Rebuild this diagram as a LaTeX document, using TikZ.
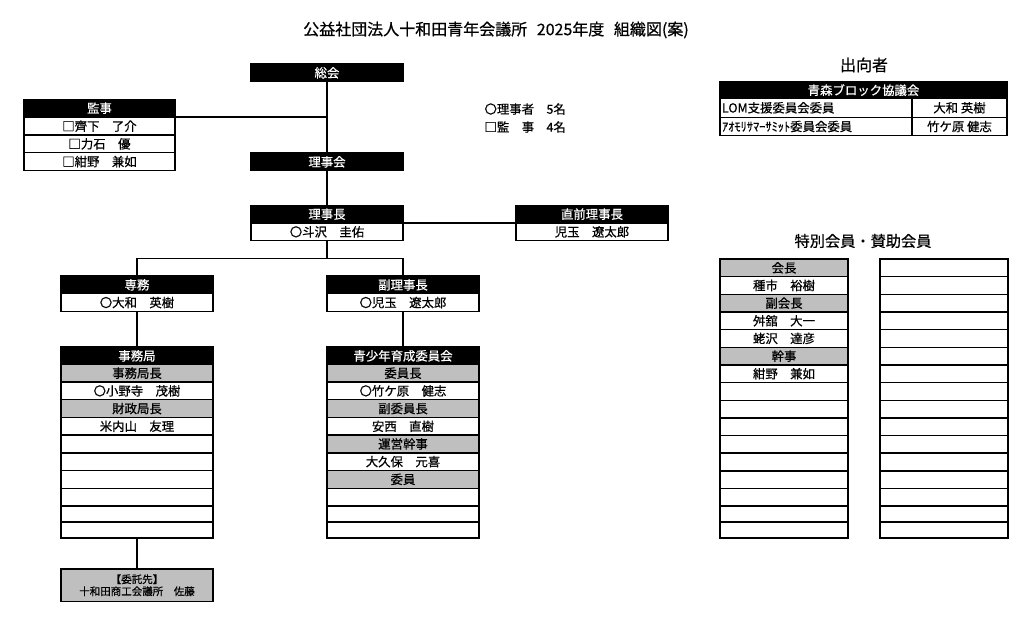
\documentclass[tikz,border=0pt]{standalone}
\usepackage{fontspec}
\setmainfont{Noto Sans CJK JP}[RawFeature={embolden=0.6}]
\definecolor{cellgray}{RGB}{191,191,191}
\newcommand\cellfont{\fontsize{12.4}{14}\selectfont}
\tikzset{
  base/.style={draw=black, line width=1.4pt, inner sep=0pt, outer sep=0pt, anchor=north west, font=\cellfont, minimum width=152pt, minimum height=17.7pt},
  hdr/.style={base, fill=black, text=white},
  gcell/.style={base, fill=cellgray},
  wcell/.style={base, fill=white},
  conn/.style={draw=black, line width=1.4pt},
}
\begin{document}
\begin{tikzpicture}[x=1pt,y=-1pt]
\useasboundingbox (0,0) rectangle (1024,628);
\fill[white] (0,0) rectangle (1024,628);

% title
\node (title) at (496,30) {\fontsize{16}{18}\selectfont 公益社団法人十和田青年会議所\hspace{0.6em}2025年度\hspace{0.6em}組織図(案)};

% top chain
\node[hdr] (sokai) at (251,64) {総会};
\node[hdr] (rijikai) at (251,153) {理事会};
\node[hdr] (richo) at (251,205.3) {理事長};
\node[wcell] (richoname) at (251,223) {〇斗沢　圭佑};
\node[hdr] (zen) at (516,205.3) {直前理事長};
\node[wcell] (zenname) at (516,223) {児玉　遼太郎};

% kanji
\node[hdr, minimum width=151pt] (kanji) at (24,99.3) {監事};
\node[wcell, minimum width=151pt] (kanji1) at (24,117.3) {□齊下　了介};
\node[wcell, minimum width=151pt] (kanji2) at (24,135) {□力石　優};
\node[wcell, minimum width=151pt] (kanji3) at (24,152.7) {□紺野　兼如};

% legend
\node[anchor=west, font=\cellfont] (leg1) at (481,109) {〇理事者　5名};
\node[anchor=west, font=\cellfont] (leg2) at (481,127) {□監　事　4名};

% senmu / fuku
\node[hdr] (senmu) at (61,276) {専務};
\node[wcell] (senmuname) at (61,293.7) {〇大和　英樹};
\node[hdr] (fuku) at (327,276) {副理事長};
\node[wcell] (fukuname) at (327,293.7) {〇児玉　遼太郎};

% jimukyoku
\node[hdr] (jmh) at (61,347) {事務局};
\node[gcell] (jm1) at (61,364.3) {事務局長};
\node[wcell] (jm2) at (61,382) {〇小野寺　茂樹};
\node[gcell] (jm3) at (61,399.7) {財政局長};
\node[wcell] (jm4) at (61,417.4) {米内山　友理};
\node[wcell] (jm5) at (61,435.1) {};
\node[wcell] (jm6) at (61,452.8) {};
\node[wcell] (jm7) at (61,470.5) {};
\node[wcell] (jm8) at (61,488.2) {};
\node[wcell, minimum height=16.2pt] (jm9) at (61,505.9) {};
\node[wcell, minimum height=15.8pt] (jm10) at (61,522.1) {};

% seishonen
\node[hdr] (sih) at (327,347) {青少年育成委員会};
\node[gcell] (si1) at (327,364.3) {委員長};
\node[wcell] (si2) at (327,382) {〇竹ケ原　健志};
\node[gcell] (si3) at (327,399.7) {副委員長};
\node[wcell] (si4) at (327,417.4) {安西　直樹};
\node[gcell] (si5) at (327,435.1) {運営幹事};
\node[wcell] (si6) at (327,452.8) {大久保　元喜};
\node[gcell] (si7) at (327,470.5) {委員};
\node[wcell] (si8) at (327,488.2) {};
\node[wcell, minimum height=16.2pt] (si9) at (327,505.9) {};
\node[wcell, minimum height=15.8pt] (si10) at (327,522.1) {};

% itaku
\node[gcell, minimum height=32.5pt, align=center, font=\fontsize{10.5}{12}\selectfont] (itaku) at (61,569) {【委託先】\\十和田商工会議所　佐藤};

% connectors
\coordinate (j1) at (327,258.5);
\draw[conn] (sokai.south) -- (rijikai.north);
\draw[conn] (kanji.south east) -- (kanji.south east -| sokai.south);
\draw[conn] (rijikai.south) -- (richo.north);
\draw[conn] (richo.south east) -- (zen.south west);
\draw[conn] (richoname.south) -- (j1);
\draw[conn] (senmu.north) |- (j1) -| (fuku.north);
\draw[conn] (senmuname.south) -- (jmh.north);
\draw[conn] (fukuname.south) -- (sih.north);
\draw[conn] (jm10.south) -- (itaku.north);

% shukkosha
\node[font=\fontsize{16}{18}\selectfont] (shtitle) at (864,65) {出向者};
\node[hdr, minimum width=287pt, minimum height=16.3pt] (aomori) at (720,82) {青森ブロック協議会};
\node[wcell, minimum width=192pt, minimum height=19pt, text width=188pt, align=left] (sh1a) at (720,98.3) {LOM支援委員会委員};
\node[wcell, minimum width=95pt, minimum height=19pt] (sh1b) at (912,98.3) {大和 英樹};
\node[wcell, minimum width=192pt, minimum height=18.4pt, text width=188pt, align=left] (sh2a) at (720,117.3) {ｱｵﾓﾘｻﾏｰｻﾐｯﾄ委員会委員};
\node[wcell, minimum width=95pt, minimum height=18.4pt] (sh2b) at (912,117.3) {竹ケ原 健志};

% tokubetsu
\node[font=\fontsize{15.2}{18}\selectfont] (tktitle) at (863,241) {特別会員・賛助会員};
\foreach \i/\t/\s in {1/会長/gcell, 2/種市　裕樹/wcell, 3/副会長/gcell, 4/舛舘　大一/wcell, 5/蛯沢　達彦/wcell, 6/幹事/gcell, 7/紺野　兼如/wcell, 8//wcell, 9//wcell, 10//wcell, 11//wcell, 12//wcell, 13//wcell, 14//wcell} {
  \node[\s, minimum width=128pt, minimum height=17.65pt] (tl\i) at (720,{259+(\i-1)*17.65}) {\t};
  \node[wcell, minimum width=128pt, minimum height=17.65pt] (tr\i) at (880,{259+(\i-1)*17.65}) {};
}
\node[wcell, minimum width=128pt, minimum height=16pt] (tl15) at (720,506.1) {};
\node[wcell, minimum width=128pt, minimum height=16pt] (tl16) at (720,522.1) {};
\node[wcell, minimum width=128pt, minimum height=16pt] (tr15) at (880,506.1) {};
\node[wcell, minimum width=128pt, minimum height=16pt] (tr16) at (880,522.1) {};
\end{tikzpicture}
\end{document}
